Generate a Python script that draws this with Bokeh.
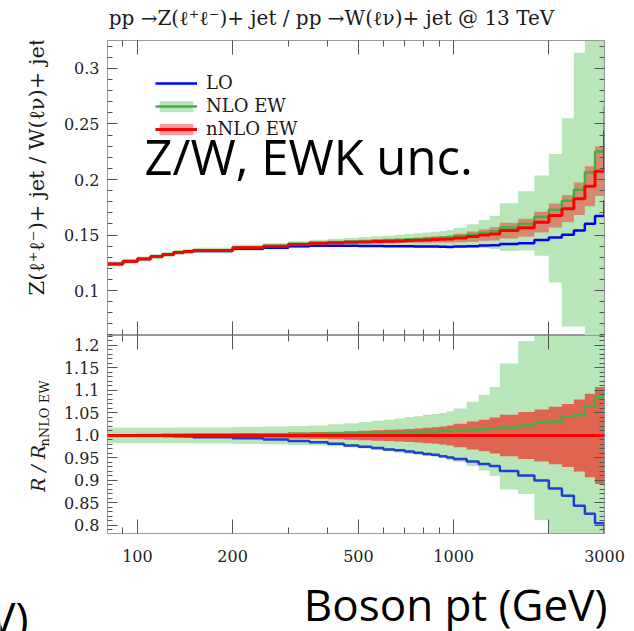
import math
from bokeh.plotting import figure
from bokeh.layouts import column, row
from bokeh.models import (LogAxis, LinearAxis, FixedTicker, Label, Legend,
                          LegendItem, Range1d)
from bokeh.embed import file_html
from bokeh.resources import INLINE

# ---------------- data ----------------
pt_edges = [80, 90, 100, 110, 120, 130, 140, 150, 200, 250, 300, 350, 400, 450,
            500, 550, 600, 650, 700, 750, 800, 850, 900, 950, 1000, 1100, 1200,
            1300, 1400, 1600, 1800, 2000, 2200, 2400, 2600, 2800, 3000, 3400]

# Z/W ratio, nNLO EW central value (top panel, red)
nnlo_ew = [0.1240, 0.1264, 0.1285, 0.1306, 0.1324, 0.1342, 0.1351, 0.1360,
           0.1385, 0.1399, 0.1415, 0.1425, 0.1430, 0.1435, 0.1438, 0.1441,
           0.1444, 0.1447, 0.1450, 0.1453, 0.1456, 0.1459, 0.1462, 0.1465,
           0.1474, 0.1486, 0.1500, 0.1510, 0.1540, 0.1565, 0.1616, 0.1676,
           0.1736, 0.1826, 0.1940, 0.2075, 0.2440]

# ratios to nNLO EW (bottom panel)
lo_over_nnlo = [1.000, 1.000, 0.9998, 0.9995, 0.999, 0.9985, 0.998, 0.9963,
                0.994, 0.991, 0.988, 0.985, 0.9815, 0.978, 0.975, 0.972,
                0.969, 0.967, 0.9645, 0.9615, 0.959, 0.957, 0.954, 0.951,
                0.9475, 0.942, 0.9364, 0.932, 0.921, 0.911, 0.900, 0.882,
                0.866, 0.844, 0.826, 0.805, 0.742]

nlo_over_nnlo = [1.000, 1.0005, 1.001, 1.001, 1.0015, 1.0015, 1.002, 1.002,
                 1.003, 1.003, 1.004, 1.004, 1.005, 1.005, 1.006, 1.006,
                 1.007, 1.007, 1.008, 1.008, 1.009, 1.009, 1.010, 1.010,
                 1.011, 1.013, 1.014, 1.016, 1.018, 1.022, 1.030, 1.031,
                 1.042, 1.045, 1.064, 1.085, 1.090]

# relative half-width of the nNLO EW uncertainty band
nnlo_rel_unc = [0.003, 0.003, 0.0032, 0.0034, 0.0036, 0.0038, 0.004, 0.0045,
                0.005, 0.0055, 0.0065, 0.0075, 0.0085, 0.0095, 0.0105, 0.0115,
                0.0125, 0.0135, 0.0145, 0.0158, 0.017, 0.0185, 0.020, 0.022,
                0.026, 0.031, 0.035, 0.040, 0.046, 0.052, 0.058, 0.064,
                0.070, 0.080, 0.093, 0.108, 0.120]

# NLO EW uncertainty band edges, relative to nNLO EW
nlo_band_hi = [1.017, 1.017, 1.017, 1.017, 1.017, 1.0175, 1.0175, 1.018,
               1.019, 1.020, 1.021, 1.022, 1.025, 1.027, 1.030, 1.033,
               1.035, 1.038, 1.041, 1.043, 1.046, 1.048, 1.050, 1.054,
               1.060, 1.075, 1.090, 1.108, 1.160, 1.210, 1.260, 1.330,
               1.470, 1.720, 1.950, 2.200, 2.400]
nlo_band_lo = [0.983, 0.983, 0.983, 0.983, 0.983, 0.9825, 0.9825, 0.982,
               0.981, 0.980, 0.979, 0.978, 0.976, 0.974, 0.971, 0.968,
               0.965, 0.962, 0.959, 0.957, 0.955, 0.953, 0.950, 0.946,
               0.941, 0.932, 0.922, 0.910, 0.880, 0.870, 0.812, 0.640,
               0.390, 0.370, 0.280, 0.250, 0.200]

x_major_ticks = [100, 200, 500, 1000, 2000, 3000]
x_minor_ticks = [80, 90, 300, 400, 600, 700, 800, 900]
x_tick_labels = {100: "100", 200: "200", 500: "500", 1000: "1000", 2000: "", 3000: "3000"}

top_major_ticks = [0.1, 0.15, 0.2, 0.25, 0.3]
top_tick_labels = ["0.1", "0.15", "0.2", "0.25", "0.3"]
top_minor_ticks = [round(0.06 + 0.01 * i, 2) for i in range(27)]

ratio_major_ticks = [0.8, 0.85, 0.9, 0.95, 1.0, 1.05, 1.1, 1.15, 1.2]
ratio_tick_labels = ["0.8", "0.85", "0.9", "0.95", "1.0", "1.05", "1.1", "1.15", "1.2"]
ratio_minor_ticks = [round(0.79 + 0.01 * i, 2) for i in range(44)]

# ---------------- derived series ----------------
lo_top = [n * r for n, r in zip(nnlo_ew, lo_over_nnlo)]
nlo_top = [n * r for n, r in zip(nnlo_ew, nlo_over_nnlo)]
nnlo_top_hi = [n * (1 + u) for n, u in zip(nnlo_ew, nnlo_rel_unc)]
nnlo_top_lo = [n * (1 - u) for n, u in zip(nnlo_ew, nnlo_rel_unc)]
nlo_top_hi = [n * r for n, r in zip(nnlo_ew, nlo_band_hi)]
nlo_top_lo = [n * r for n, r in zip(nnlo_ew, nlo_band_lo)]
one = [n / n for n in nnlo_ew]
nnlo_ratio_hi = [1 + u for u in nnlo_rel_unc]
nnlo_ratio_lo = [1 - u for u in nnlo_rel_unc]


def stairs(v):
    return list(v) + [v[-1]]


SERIF = "DejaVu Serif"
SANS = "Open Sans"
BLUE = "#0000ff"
GREEN = "#44b044"
RED = "#ff0000"
BAND_GREEN = "#b9e6b9"
TXT = "#1a1a1a"


def style_axis(ax, labels=True, major=12, minor=6):
    ax.major_tick_in = major
    ax.major_tick_out = 0
    ax.minor_tick_in = minor
    ax.minor_tick_out = 0
    ax.axis_line_color = "#9a9a9a"
    ax.major_tick_line_color = "#555555"
    ax.minor_tick_line_color = "#555555"
    ax.major_label_text_font = SERIF
    ax.major_label_text_font_size = "16px"
    ax.major_label_text_color = "#222222"
    if not labels:
        ax.major_label_text_font_size = "0px"
        ax.major_label_text_color = None
        ax.major_label_standoff = 0


def x_ticker():
    return FixedTicker(ticks=x_major_ticks, minor_ticks=x_minor_ticks)


def blank(w, h):
    f = figure(width=w, height=h, output_backend="svg", toolbar_location=None,
               x_axis_location=None, y_axis_location=None, min_border=0,
               x_range=Range1d(0, 1), y_range=Range1d(0, 1))
    f.outline_line_color = None
    f.grid.visible = False
    return f


x_range = Range1d(80.4, 3000)

# ---------------- title strip ----------------
f_title = blank(634, 40)
f_title.add_layout(Label(x=331, y=23, x_units="screen", y_units="screen",
                         text="pp \u2192Z(\u2113\u207a\u2113\u207b)+ jet / pp \u2192W(\u2113\u03bd)+ jet @ 13 TeV",
                         text_font=SERIF, text_font_size="20px", text_align="center",
                         text_baseline="middle", text_color=TXT))

# ---------------- top panel ----------------
p1 = figure(width=574, height=295, frame_width=497, frame_height=295,
            x_axis_type="log", x_range=x_range, y_range=Range1d(0.0595, 0.3252),
            output_backend="svg", toolbar_location=None,
            min_border_left=43, min_border_right=34, min_border_top=0,
            min_border_bottom=0)
p1.xgrid.visible = False
p1.ygrid.visible = False
p1.outline_line_color = "#9a9a9a"

p1.xaxis[0].ticker = x_ticker()
style_axis(p1.xaxis[0], labels=False, major=14, minor=6)
ax_top = LogAxis(ticker=x_ticker())
style_axis(ax_top, labels=False, major=14, minor=6)
p1.add_layout(ax_top, "above")

p1.yaxis[0].ticker = FixedTicker(ticks=top_major_ticks, minor_ticks=top_minor_ticks)
p1.yaxis[0].major_label_overrides = dict(zip(top_major_ticks, top_tick_labels))
style_axis(p1.yaxis[0], labels=True, major=10, minor=5)
p1.yaxis[0].major_label_standoff = 8
ax_r1 = LinearAxis(ticker=FixedTicker(ticks=top_major_ticks, minor_ticks=top_minor_ticks))
style_axis(ax_r1, labels=False, major=10, minor=5)
p1.add_layout(ax_r1, "right")

edges = pt_edges
r_nlo_band = p1.varea_step(x=edges, y1=stairs(nlo_top_lo), y2=stairs(nlo_top_hi),
                           step_mode="after", fill_color=BAND_GREEN, fill_alpha=1.0)
r_nnlo_band = p1.varea_step(x=edges, y1=stairs(nnlo_top_lo), y2=stairs(nnlo_top_hi),
                            step_mode="after", fill_color=RED, fill_alpha=0.4)
r_lo = p1.step(x=edges, y=stairs(lo_top), mode="after", line_color=BLUE, line_width=2.5)
r_nlo = p1.step(x=edges, y=stairs(nlo_top), mode="after", line_color=GREEN, line_width=2.5)
r_nnlo = p1.step(x=edges, y=stairs(nnlo_ew), mode="after", line_color=RED, line_width=3)

legend = Legend(items=[LegendItem(label="LO", renderers=[r_lo]),
                       LegendItem(label="NLO EW", renderers=[r_nlo_band, r_nlo]),
                       LegendItem(label="nNLO EW", renderers=[r_nnlo_band, r_nnlo])],
                location=(48, 196), label_text_font=SERIF, label_text_font_size="18px",
                label_text_color=TXT,
                glyph_width=42, glyph_height=14, label_standoff=9, spacing=2,
                padding=0, margin=0, border_line_color=None, background_fill_alpha=0)
p1.add_layout(legend)

p1.add_layout(Label(x=37, y=180, x_units="screen", y_units="screen",
                    text="Z/W, EWK unc.", text_font=SANS, text_font_size="49px",
                    text_align="left", text_baseline="middle", text_color="#000000"))

f_yl1 = blank(60, 295)
f_yl1.add_layout(Label(x=36, y=169, x_units="screen", y_units="screen", angle=math.pi / 2,
                       text="Z(\u2113\u207a\u2113\u207b)+ jet / W(\u2113\u03bd)+ jet",
                       text_font=SERIF, text_font_size="21px", text_align="center",
                       text_baseline="middle", text_color=TXT))

# ---------------- bottom (ratio) panel ----------------
p2 = figure(width=574, height=236, frame_width=497, frame_height=198,
            x_axis_type="log", x_range=x_range, y_range=Range1d(0.7822, 1.2222),
            output_backend="svg", toolbar_location=None,
            min_border_left=43, min_border_right=34, min_border_top=0,
            min_border_bottom=38)
p2.xgrid.visible = False
p2.ygrid.visible = False
p2.outline_line_color = "#9a9a9a"

p2.xaxis[0].ticker = x_ticker()
p2.xaxis[0].major_label_overrides = x_tick_labels
style_axis(p2.xaxis[0], labels=True, major=14, minor=6)
p2.xaxis[0].major_label_standoff = 16
ax_top2 = LogAxis(ticker=x_ticker())
style_axis(ax_top2, labels=False, major=14, minor=6)
p2.add_layout(ax_top2, "above")

p2.yaxis[0].ticker = FixedTicker(ticks=ratio_major_ticks, minor_ticks=ratio_minor_ticks)
p2.yaxis[0].major_label_overrides = dict(zip(ratio_major_ticks, ratio_tick_labels))
style_axis(p2.yaxis[0], labels=True, major=10, minor=5)
p2.yaxis[0].major_label_standoff = 8
ax_r2 = LinearAxis(ticker=FixedTicker(ticks=ratio_major_ticks, minor_ticks=ratio_minor_ticks))
style_axis(ax_r2, labels=False, major=10, minor=5)
p2.add_layout(ax_r2, "right")

p2.varea_step(x=edges, y1=stairs(nlo_band_lo), y2=stairs(nlo_band_hi),
              step_mode="after", fill_color=BAND_GREEN, fill_alpha=1.0)
p2.varea_step(x=edges, y1=stairs(nnlo_ratio_lo), y2=stairs(nnlo_ratio_hi),
              step_mode="after", fill_color=RED, fill_alpha=0.56)
p2.step(x=edges, y=stairs(lo_over_nnlo), mode="after", line_color="#1f3fd6", line_width=2.5)
p2.step(x=edges, y=stairs(nlo_over_nnlo), mode="after", line_color=GREEN, line_width=2.5)
p2.step(x=edges, y=stairs(one), mode="after", line_color=RED, line_width=3)

f_yl2 = blank(60, 236)
f_yl2.add_layout(Label(x=37, y=65, x_units="screen", y_units="screen", angle=math.pi / 2,
                       text="R / R", text_font=SERIF, text_font_style="italic",
                       text_font_size="19px", text_align="center", text_baseline="middle",
                       text_color=TXT))
f_yl2.add_layout(Label(x=44, y=120, x_units="screen", y_units="screen", angle=math.pi / 2,
                       text="nNLO EW", text_font=SERIF, text_font_size="13px",
                       text_align="center", text_baseline="middle", text_color=TXT))

# ---------------- x-axis title strip ----------------
f_bottom = blank(634, 60)
f_bottom.add_layout(Label(x=607, y=28, x_units="screen", y_units="screen",
                          text="Boson pt (GeV)", text_font=SANS, text_font_size="44px",
                          text_align="right", text_baseline="middle", text_color="#000000"))
f_bottom.add_layout(Label(x=28, y=15, x_units="screen", y_units="screen",
                          text="Boson pt (GeV)", text_font=SANS, text_font_size="44px",
                          text_align="right", text_baseline="middle", text_color="#000000"))

layout = column(f_title, row(f_yl1, p1, spacing=0), row(f_yl2, p2, spacing=0),
                f_bottom, spacing=0)
open("out.html", "w").write(file_html(layout, INLINE))
